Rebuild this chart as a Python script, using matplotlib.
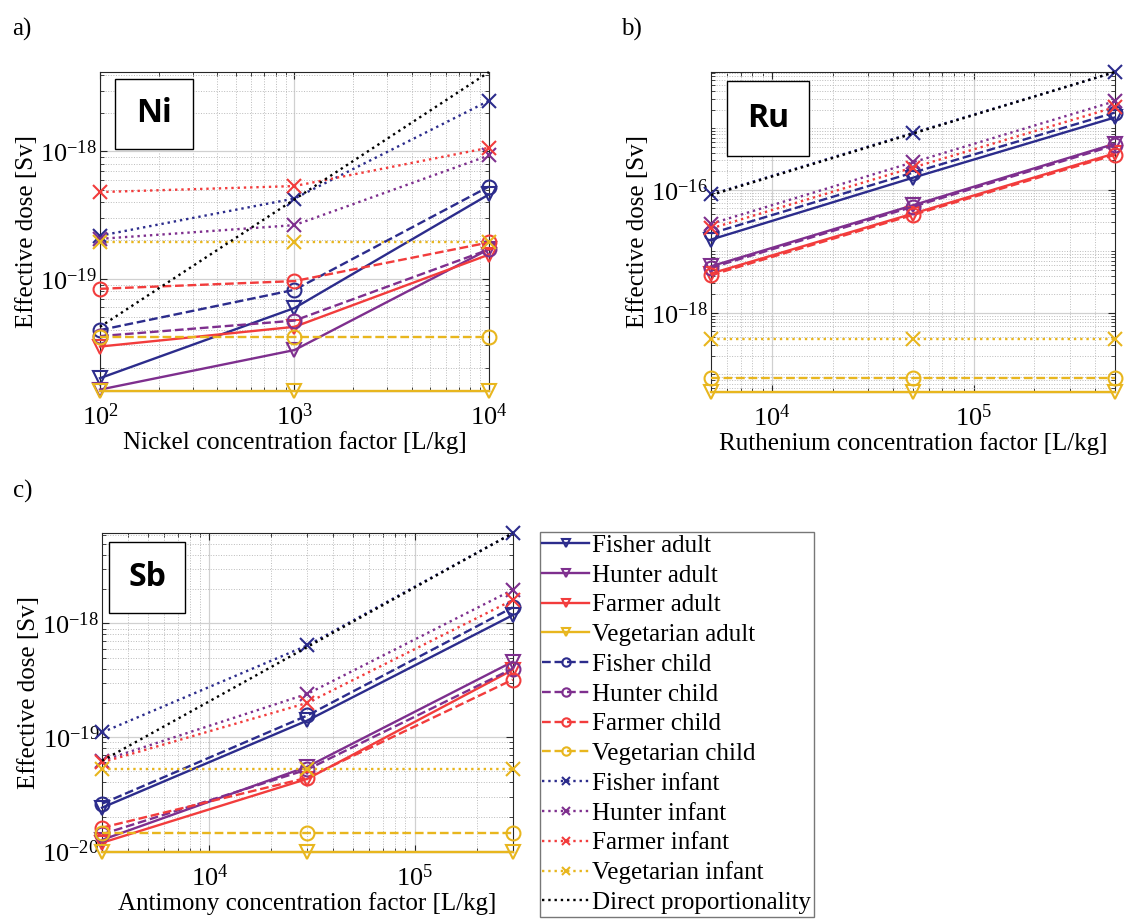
import matplotlib
matplotlib.use('Agg')
import matplotlib.pyplot as plt
from matplotlib.ticker import LogLocator, FixedLocator, LogFormatterSciNotation, NullFormatter
from matplotlib.patches import Rectangle

plt.rcParams['font.family'] = ['Liberation Serif', 'DejaVu Serif']
plt.rcParams['mathtext.fontset'] = 'custom'
plt.rcParams['mathtext.rm'] = 'Liberation Serif'
plt.rcParams['mathtext.it'] = 'Liberation Serif:italic'

# ---- data ----
names = ['Fisher adult', 'Hunter adult', 'Farmer adult', 'Vegetarian adult',
         'Fisher child', 'Hunter child', 'Farmer child', 'Vegetarian child',
         'Fisher infant', 'Hunter infant', 'Farmer infant', 'Vegetarian infant',
         'Direct proportionality']

ni_x = [1e2, 1e3, 1e4]
ni_fisher_adult = [1.66e-20, 5.9e-20, 4.6e-19]
ni_hunter_adult = [1.35e-20, 2.76e-20, 1.71e-19]
ni_farmer_adult = [2.94e-20, 4.2e-20, 1.55e-19]
ni_veg_adult = [1.32e-20, 1.32e-20, 1.32e-20]
ni_fisher_child = [3.96e-20, 8.2e-20, 5.3e-19]
ni_hunter_child = [3.55e-20, 4.7e-20, 1.7e-19]
ni_farmer_child = [8.35e-20, 9.6e-20, 1.93e-19]
ni_veg_child = [3.5e-20, 3.5e-20, 3.5e-20]
ni_fisher_infant = [2.18e-19, 4.27e-19, 2.5e-18]
ni_hunter_infant = [2.06e-19, 2.64e-19, 9.3e-19]
ni_farmer_infant = [4.8e-19, 5.35e-19, 1.07e-18]
ni_veg_infant = [1.95e-19, 1.95e-19, 1.95e-19]
ni_direct = [4.2e-20, 4.2e-19, 4.2e-18]

ru_x = [5e3, 5e4, 5e5]
ru_fisher_adult = [1.55e-17, 1.57e-16, 1.5e-15]
ru_hunter_adult = [5.7e-18, 5.6e-17, 5.6e-16]
ru_farmer_adult = [4.35e-18, 4.1e-17, 3.9e-16]
ru_veg_adult = [5.2e-20, 5.2e-20, 5.2e-20]
ru_fisher_child = [1.95e-17, 1.9e-16, 1.8e-15]
ru_hunter_child = [5.4e-18, 5.3e-17, 5.3e-16]
ru_farmer_child = [4.1e-18, 3.9e-17, 3.7e-16]
ru_veg_child = [8.6e-20, 8.6e-20, 8.6e-20]
ru_fisher_infant = [8.4e-17, 8.4e-16, 8.2e-15]
ru_hunter_infant = [2.8e-17, 2.8e-16, 2.75e-15]
ru_farmer_infant = [2.35e-17, 2.3e-16, 2.2e-15]
ru_veg_infant = [3.7e-19, 3.7e-19, 3.7e-19]
ru_direct = [8.2e-17, 8.2e-16, 8.2e-15]

sb_x = [3e3, 3e4, 3e5]
sb_fisher_adult = [2.4e-20, 1.4e-19, 1.18e-18]
sb_hunter_adult = [1.25e-20, 5.5e-20, 4.6e-19]
sb_farmer_adult = [1.18e-20, 4.3e-20, 3.9e-19]
sb_veg_adult = [9.8e-21, 9.8e-21, 9.8e-21]
sb_fisher_child = [2.6e-20, 1.55e-19, 1.38e-18]
sb_hunter_child = [1.4e-20, 5.2e-20, 4.0e-19]
sb_farmer_child = [1.6e-20, 4.4e-20, 3.2e-19]
sb_veg_child = [1.43e-20, 1.43e-20, 1.43e-20]
sb_fisher_infant = [1.1e-19, 6.4e-19, 6.2e-18]
sb_hunter_infant = [6.2e-20, 2.4e-19, 1.97e-18]
sb_farmer_infant = [6.0e-20, 2.0e-19, 1.6e-18]
sb_veg_infant = [5.3e-20, 5.3e-20, 5.3e-20]
sb_direct = [6.2e-20, 6.2e-19, 6.2e-18]

ni_series = [ni_fisher_adult, ni_hunter_adult, ni_farmer_adult, ni_veg_adult,
             ni_fisher_child, ni_hunter_child, ni_farmer_child, ni_veg_child,
             ni_fisher_infant, ni_hunter_infant, ni_farmer_infant, ni_veg_infant, ni_direct]
ru_series = [ru_fisher_adult, ru_hunter_adult, ru_farmer_adult, ru_veg_adult,
             ru_fisher_child, ru_hunter_child, ru_farmer_child, ru_veg_child,
             ru_fisher_infant, ru_hunter_infant, ru_farmer_infant, ru_veg_infant, ru_direct]
sb_series = [sb_fisher_adult, sb_hunter_adult, sb_farmer_adult, sb_veg_adult,
             sb_fisher_child, sb_hunter_child, sb_farmer_child, sb_veg_child,
             sb_fisher_infant, sb_hunter_infant, sb_farmer_infant, sb_veg_infant, sb_direct]

# ---- styles ----
blue = '#2c2c8c'
purple = '#7e2f8e'
red = '#f23c3c'
yellow = '#e8b61e'
colors = [blue, purple, red, yellow] * 3 + ['black']
styles = ['-'] * 4 + ['--'] * 4 + [':'] * 4 + [':']
markers = ['v'] * 4 + ['o'] * 4 + ['x'] * 4 + [None]

fig = plt.figure(figsize=(11.44, 9.24), dpi=100)


def panel(rect, x, series, xlabel, ylim, box, tag, yticks):
    ax = fig.add_axes(rect)
    lines = []
    for i in range(13):
        ln, = ax.plot(x, series[i], color=colors[i], ls=styles[i], lw=1.7,
                      marker=markers[i], ms=10, mfc='none', mew=1.5,
                      clip_on=False, label=names[i], zorder=3 + (i == 12))
        lines.append(ln)
    ax.set_xscale('log')
    ax.set_yscale('log')
    ax.set_xlim(x[0], x[-1])
    ax.set_ylim(*ylim)
    ax.yaxis.set_major_locator(FixedLocator(yticks))
    ax.yaxis.set_major_formatter(LogFormatterSciNotation())
    ax.yaxis.set_minor_locator(LogLocator(base=10, subs=range(1, 10), numticks=50))
    ax.yaxis.set_minor_formatter(NullFormatter())
    ax.xaxis.set_minor_locator(LogLocator(base=10, subs=range(1, 10), numticks=50))
    ax.xaxis.set_minor_formatter(NullFormatter())
    ax.grid(True, which='major', color='#d0d0d0', lw=0.9, ls='-')
    ax.grid(True, which='minor', color='#bbbbbb', lw=0.7, ls=':')
    ax.set_axisbelow(True)
    ax.tick_params(which='both', direction='in', top=True, right=True,
                   labelsize=19, color='#262626')
    ax.tick_params(which='major', length=5)
    ax.tick_params(which='minor', length=3)
    ax.tick_params(axis='y', pad=2)
    ax.tick_params(axis='x', pad=9)
    for s in ax.spines.values():
        s.set_color('#262626')
        s.set_linewidth(0.8)
    ax.set_xlabel(xlabel, fontsize=18, labelpad=1)
    ax.set_ylabel('Effective dose [Sv]', fontsize=18, labelpad=2)
    bx0, by0, bx1, by1 = box
    ax.add_patch(Rectangle((bx0, by0), bx1 - bx0, by1 - by0, transform=ax.transAxes,
                           facecolor='white', edgecolor='black', lw=1.0, zorder=6))
    ax.text((bx0 + bx1) / 2, (by0 + by1) / 2, tag, transform=ax.transAxes,
            ha='center', va='center', fontsize=23, fontweight='bold',
            family='Open Sans', zorder=7)
    return ax, lines


panel([0.0874, 0.577, 0.340, 0.345], ni_x, ni_series,
      'Nickel concentration factor [L/kg]', (1.32e-20, 4.2e-18),
      (0.039, 0.759, 0.239, 0.978), 'Ni', [1e-20, 1e-19, 1e-18, 1e-17])

panel([0.6215, 0.576, 0.353, 0.346], ru_x, ru_series,
      'Ruthenium concentration factor [L/kg]', (5.2e-20, 8.2e-15),
      (0.040, 0.736, 0.243, 0.972), 'Ru', [1e-20, 1e-18, 1e-16, 1e-14])

ax_c, lines_c = panel([0.0892, 0.078, 0.359, 0.345], sb_x, sb_series,
                      'Antimony concentration factor [L/kg]', (9.8e-21, 6.2e-18),
                      (0.017, 0.750, 0.202, 0.972), 'Sb', [1e-20, 1e-19, 1e-18, 1e-17])

leg = fig.legend(handles=lines_c, loc='upper left', bbox_to_anchor=(0.472, 0.4245),
                 fontsize=18, frameon=True, fancybox=False, edgecolor='#555555',
                 handlelength=1.85, handletextpad=0.15, labelspacing=0.29,
                 borderpad=0.1, borderaxespad=0, markerscale=0.6)
leg.get_frame().set_linewidth(1.0)

fig.text(0.011, 0.962, 'a)', fontsize=18)
fig.text(0.543, 0.962, 'b)', fontsize=18)
fig.text(0.011, 0.462, 'c)', fontsize=18)

fig.savefig('out.png', dpi=100)
